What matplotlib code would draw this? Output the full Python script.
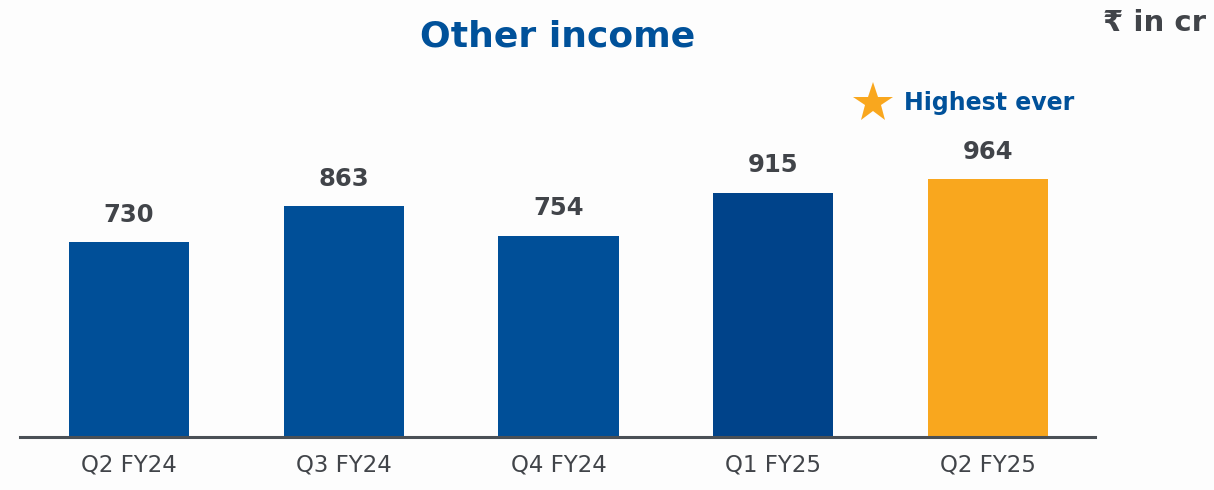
import matplotlib.pyplot as plt

# data
quarters = ["Q2 FY24", "Q3 FY24", "Q4 FY24", "Q1 FY25", "Q2 FY25"]
other_income = [730, 863, 754, 915, 964]
bar_colors = ["#004F98", "#004F98", "#004F98", "#00438A", "#F9A71E"]

plt.rcParams['font.family'] = ['DejaVu Sans', 'Noto Sans']

fig = plt.figure(figsize=(12.14, 4.9), dpi=100, facecolor="#FDFDFD")
ax = fig.add_axes([0.0165, 0.108, 0.8855, 0.842])
ax.set_facecolor("none")

x = range(len(quarters))
ax.bar(x, other_income, width=0.56, color=bar_colors, zorder=2)

for xi, v in zip(x, other_income):
    ax.annotate(f"{v}", (xi, v), xytext=(0, 11), textcoords="offset points",
                ha="center", va="bottom", fontsize=17.5, fontweight="bold",
                color="#414449")

ax.set_xlim(-0.508, 4.498)
ax.set_ylim(0, 1544)
ax.set_xticks(list(x))
ax.set_xticklabels(quarters, fontsize=16.5, color="#414449")
ax.tick_params(axis="x", length=0, pad=12)
ax.set_yticks([])
for s in ["top", "right", "left"]:
    ax.spines[s].set_visible(False)
ax.spines["bottom"].set_color("#4A5056")
ax.spines["bottom"].set_linewidth(2.2)

# titles
fig.text(0.459, 0.925, "Other income", ha="center", va="center",
         fontsize=26, fontweight="bold", color="#00519A")
fig.text(0.993, 0.953, "₹ in cr", ha="right", va="center",
         fontsize=21, fontweight="bold", color="#414449")

# highest ever callout
ax.plot([0.7195], [0.79], marker="*", markersize=30, color="#F9A71E",
        markeredgewidth=0, transform=fig.transFigure, clip_on=False)
fig.text(0.745, 0.79, "Highest ever", ha="left", va="center",
         fontsize=17, fontweight="bold", color="#00519A")

fig.savefig("out.png", dpi=100, facecolor=fig.get_facecolor())
